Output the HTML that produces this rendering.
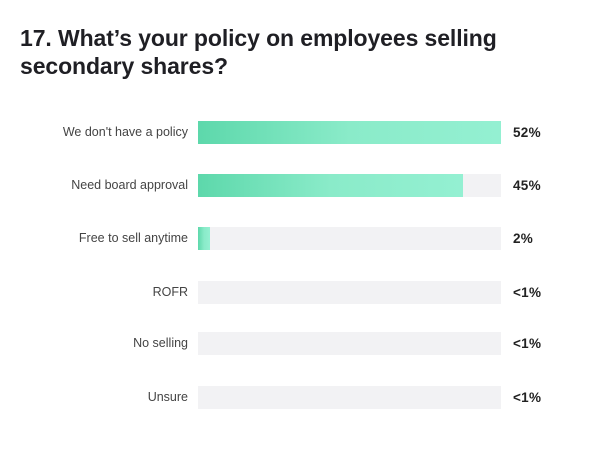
<!DOCTYPE html>
<html><head><style>
body{margin:0;width:600px;height:450px;background:#fff;font-family:"Liberation Sans",sans-serif;position:relative;overflow:hidden}
h1{position:absolute;left:20px;top:24px;margin:0;font-size:23px;line-height:28px;font-weight:bold;color:#1f1f24;letter-spacing:-0.1px}
.row{position:absolute;left:0;width:600px;height:23px}
.lab{position:absolute;right:412px;top:0;line-height:23px;font-size:12.5px;color:#444;white-space:nowrap}
.track{position:absolute;left:198px;width:303px;top:0;height:23px;background:#f2f2f4}
.bar{position:absolute;left:0;top:0;height:23px;background:linear-gradient(90deg,#5dd8ab,#8aebc9 50%,#94f0d2)}
.pct{position:absolute;left:513px;top:0;line-height:23px;font-size:13.5px;font-weight:bold;color:#222;letter-spacing:0.3px}
</style></head><body>
<h1>17. What’s your policy on employees selling<br>secondary shares?</h1>
<div class="row" style="top:121px"><div class="lab">We don't have a policy</div><div class="track"><div class="bar" style="width:303px"></div></div><div class="pct">52%</div></div>
<div class="row" style="top:174px"><div class="lab">Need board approval</div><div class="track"><div class="bar" style="width:265px"></div></div><div class="pct">45%</div></div>
<div class="row" style="top:227px"><div class="lab">Free to sell anytime</div><div class="track"><div class="bar" style="width:12px"></div></div><div class="pct">2%</div></div>
<div class="row" style="top:281px"><div class="lab">ROFR</div><div class="track"></div><div class="pct">&lt;1%</div></div>
<div class="row" style="top:332px"><div class="lab">No selling</div><div class="track"></div><div class="pct">&lt;1%</div></div>
<div class="row" style="top:386px"><div class="lab">Unsure</div><div class="track"></div><div class="pct">&lt;1%</div></div>
</body></html>
